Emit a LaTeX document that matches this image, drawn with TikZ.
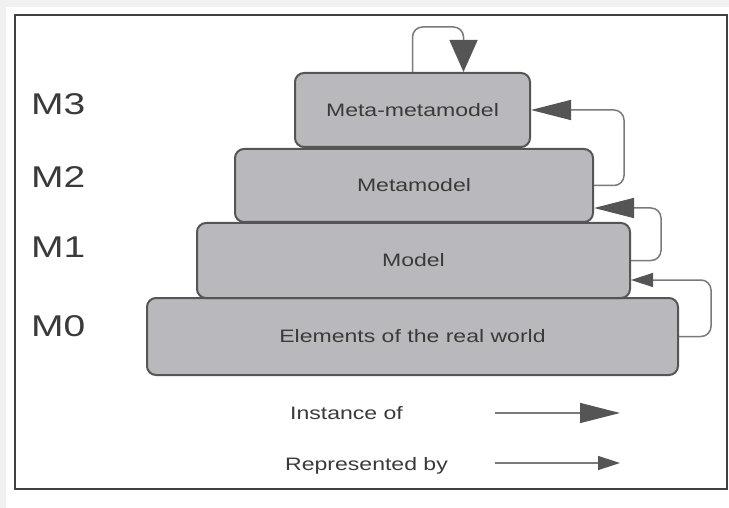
\documentclass[tikz,border=0pt]{standalone}
\usepackage{fontspec}
\setmainfont{Liberation Sans}
\usetikzlibrary{arrows.meta,calc}
\definecolor{boxfill}{HTML}{B9B9BD}
\definecolor{boxline}{HTML}{555555}
\definecolor{txt}{HTML}{3A3A3A}
\definecolor{conn}{HTML}{7A7A7A}
\definecolor{tipc}{HTML}{555555}
\definecolor{bgout}{HTML}{F1F1F1}
\tikzset{
  layerbox/.style={draw=boxline, line width=2pt, fill=boxfill, rounded corners=9pt,
    inner sep=0pt, font=\fontsize{18}{20}\selectfont, text=txt},
  lvl/.style={anchor=west, inner sep=0pt, font=\fontsize{30}{32}\selectfont, text=txt},
  legtext/.style={anchor=west, inner sep=0pt, font=\fontsize{18}{20}\selectfont, text=txt},
  conline/.style={draw=conn, line width=1.5pt, rounded corners=10pt},
  inst/.style={conline, -{Triangle[length=40pt,width=20pt,fill=tipc,color=tipc]}},
  selfinst/.style={conline, -{Triangle[length=32pt,width=28pt,fill=tipc,color=tipc]}},
  repr/.style={conline, -{Triangle[length=22pt,width=14pt,fill=tipc,color=tipc]}},
}
\newcommand{\wide}[1]{\scalebox{1.28}[1]{#1}}
\begin{document}
\begin{tikzpicture}[x=1pt,y=-1pt]
\useasboundingbox (0,0) rectangle (729,508);
\fill[bgout] (0,0) rectangle (729,508);
\fill[white] (6,7) rectangle (729,508);
\draw[line width=2pt, draw=black!75, fill=white] (15,15) rectangle (727,489);

% level labels
\node[lvl] (l3) at (31,104) {\scalebox{1.3}[1]{M3}};
\node[lvl] (l2) at (31,177) {\scalebox{1.3}[1]{M2}};
\node[lvl] (l1) at (31,247) {\scalebox{1.3}[1]{M1}};
\node[lvl] (l0) at (31,326) {\scalebox{1.3}[1]{M0}};

% boxes
\node[layerbox, minimum width=531pt, minimum height=77pt] (me) at (412.5,336.5) {\wide{Elements of the real world}};
\node[layerbox, minimum width=433pt, minimum height=75pt] (md) at (413.5,260.5) {\wide{Model}};
\node[layerbox, minimum width=358pt, minimum height=73pt] (mt) at (414,185.5) {\wide{Metamodel}};
\node[layerbox, minimum width=235pt, minimum height=74pt] (mm) at (412.5,110) {\wide{Meta-metamodel}};

% connectors
\draw[selfinst] (mm.north) -- ++(0,-45) -| ([xshift=51pt]mm.north);
\draw[inst] (mt.east) -- ++(30,0) |- (mm.east);
\draw[inst] (md.east) -- ++(30,0) |- ([yshift=15pt]mt.south east);
\draw[repr] (me.east) -- ++(32,0) |- ([yshift=19pt]md.south east);

% legend
\node[legtext] (li) at (290,413) {\wide{Instance of}};
\node[legtext] (lr) at (285,466) {\wide{Represented by}};
\coordinate (ia) at (495,413);
\coordinate (ib) at (620,413);
\coordinate (ra) at (495,463);
\coordinate (rb) at (620,463);
\draw[inst, rounded corners=0pt] (ia) -- (ib);
\draw[repr, rounded corners=0pt] (ra) -- (rb);
\end{tikzpicture}
\end{document}
